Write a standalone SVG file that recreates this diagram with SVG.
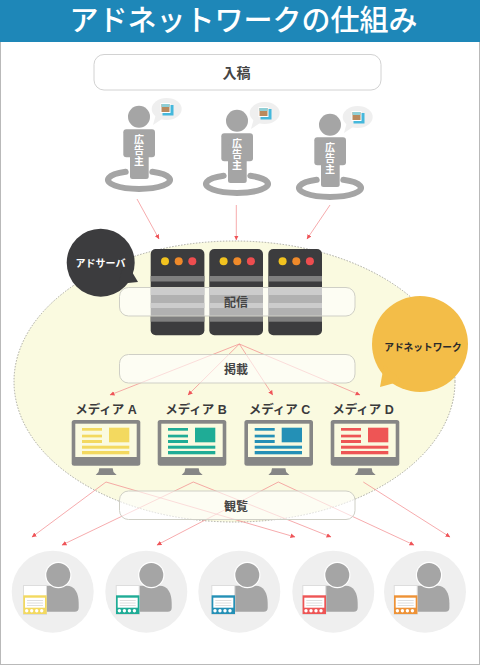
<svg xmlns="http://www.w3.org/2000/svg" xmlns:xlink="http://www.w3.org/1999/xlink" width="480" height="665" viewBox="0 0 480 665">
<style>
text{font-family:"Liberation Sans","Noto Sans CJK JP",sans-serif;font-weight:700;text-anchor:middle}
.label{fill:#444;font-size:12px}
.media{fill:#3a3a3c;font-size:12.5px}
.adv{fill:#fff;font-size:10px}
.band{fill:#fff;fill-opacity:.6;stroke:#cfcfc6;stroke-width:1}
.gray{fill:#a5a5a5}
.link{stroke:#f2878a;stroke-width:.7;fill:none;marker-end:url(#arrow)}
.stripe{fill:#7f7f7f}
</style>
<defs>
<marker id="arrow" markerUnits="userSpaceOnUse" markerWidth="6" markerHeight="5" refX="4.500" refY="2.500" orient="auto"><path d="M0 .2L4.800 2.500L0 4.800z" fill="#ef5458"/></marker>
<g id="advertiser">
<circle cx="139" cy="116.700" r="11" class="gray"/>
<rect x="123.300" y="129.300" width="31.700" height="28" rx="3" class="gray"/>
<rect x="130" y="140" width="18.700" height="39" rx="2.500" class="gray"/>
<path d="M125.700 171.800A31 9 0 1 0 152.300 171.800" fill="none" stroke="#a5a5a5" stroke-width="6" stroke-linecap="round"/>
<ellipse cx="166.700" cy="109" rx="15" ry="11" fill="#efefef"/>
<path d="M156 114L153 125L165 117z" fill="#efefef"/>
<rect x="162.500" y="105" width="11" height="10.500" fill="#45b8dc"/>
<rect x="160.500" y="103" width="10" height="10" fill="#fff"/>
<rect x="161.500" y="104" width="8" height="8" fill="#b98a5e"/>
<rect x="161.500" y="104" width="8" height="3" fill="#8fcfd6"/>
</g>
<g id="server">
<rect x="0" y="0" width="53.700" height="86.300" rx="5" fill="#3c3c3e"/>
<circle cx="14.300" cy="12.300" r="4" fill="#f2c31f"/>
<circle cx="28" cy="12.300" r="4" fill="#f08a2a"/>
<circle cx="41.600" cy="12.300" r="4" fill="#ee4d4f"/>
<rect y="27" width="53.700" height="5.500" class="stripe"/>
<rect y="38.500" width="53.700" height="7.500" class="stripe"/>
<rect y="54" width="53.700" height="5" class="stripe"/>
<rect y="67" width="53.700" height="5.700" class="stripe"/>
</g>
<g id="monitor">
<rect x="71.700" y="420" width="68.600" height="45.700" rx="2.500" fill="#868686"/>
<rect x="75.300" y="423.700" width="61.400" height="33.300" fill="#fafae0"/>
<path d="M99.300 468.300H112.700L113.500 472L116.700 475H95.700L98.500 472z" fill="#868686"/>
</g>
<g id="user">
<path d="M-6 -6H20C28 -6 32 1 32 12V16A4 4 0 0 1 28 20H-6z" class="gray"/>
<circle cx="11.600" cy="-16.700" r="13.200" fill="#fff"/>
<circle cx="11.600" cy="-16.700" r="12" class="gray"/>
</g>
<g id="cardBase">
<rect x=".5" y=".5" width="23" height="29" fill="#fff" stroke="#ddd"/>
</g>
<g id="cardInner">
<rect x="2" y="12.700" width="20" height="10" fill="#fff"/>
<path d="M4 15.500H20M4 18H20M4 20.500H20" stroke="#d5d5d5" stroke-width=".8" fill="none"/>
<circle cx="3.700" cy="25.700" r="1.700" fill="#fff"/><circle cx="8.700" cy="25.700" r="1.700" fill="#fff"/><circle cx="13.700" cy="25.700" r="1.700" fill="#fff"/><circle cx="18.700" cy="25.700" r="1.700" fill="#fff"/>
</g>
</defs>

<rect width="480" height="665" fill="#fff"/>
<rect x=".5" y=".5" width="479" height="664" fill="none" stroke="#b9b9b9"/>

<g id="header">
<rect width="480" height="42" fill="#1e87b8"/>
<text x="243.500" y="31" fill="#fff" font-size="29" style="font-weight:500">アドネットワークの仕組み</text>
</g>

<g id="network-area">
<ellipse cx="234.500" cy="381.500" rx="220.500" ry="140.500" fill="#fafae0" stroke="#a9a9a0" stroke-width="1" stroke-dasharray="1.500 1.500"/>
</g>

<g id="submit">
<rect x="94" y="54.500" width="287" height="35.500" rx="10" fill="#fff" stroke="#d2d2d2"/>
<text x="236.500" y="77.500" class="label" style="font-size:14px">入稿</text>
</g>

<g id="advertiser-1">
<use xlink:href="#advertiser" href="#advertiser"/>
<text x="139" y="143" class="adv">広</text><text x="139" y="154" class="adv">告</text><text x="139" y="165" class="adv">主</text>
</g>
<g id="advertiser-2">
<use xlink:href="#advertiser" href="#advertiser" x="98" y="4"/>
<text x="237" y="147" class="adv">広</text><text x="237" y="158" class="adv">告</text><text x="237" y="169" class="adv">主</text>
</g>
<g id="advertiser-3">
<use xlink:href="#advertiser" href="#advertiser" x="191" y="8"/>
<text x="330" y="151" class="adv">広</text><text x="330" y="162" class="adv">告</text><text x="330" y="173" class="adv">主</text>
</g>

<g id="server-1"><use xlink:href="#server" href="#server" x="150.700" y="249"/></g>
<g id="server-2"><use xlink:href="#server" href="#server" x="209.300" y="249"/></g>
<g id="server-3"><use xlink:href="#server" href="#server" x="268.300" y="249"/></g>

<g id="connectors">
<path class="link" d="M137 199L159 239"/>
<path class="link" d="M236.300 205V240"/>
<path class="link" d="M330 205L307 239"/>
<path class="link" d="M239.300 344L110 395"/>
<path class="link" d="M239.300 344L188 395"/>
<path class="link" d="M239.300 344L272.700 395"/>
<path class="link" d="M239.300 344L360 395"/>
<path class="link" d="M106 482L32 537"/>
<path class="link" d="M106 482L295 537"/>
<path class="link" d="M193.300 482L62 545"/>
<path class="link" d="M193.300 482L331 537"/>
<path class="link" d="M278.300 482L157 545"/>
<path class="link" d="M278.300 482L414 545"/>
<path class="link" d="M363.300 482L450 537"/>
</g>

<g id="delivery">
<rect x="119.500" y="287.500" width="235.500" height="28.500" rx="9" class="band"/>
<text x="236" y="306.500" class="label">配信</text>
</g>
<g id="publish">
<rect x="119.500" y="354.500" width="235.500" height="28.500" rx="9" class="band"/>
<text x="236" y="374" class="label">掲載</text>
</g>
<g id="view">
<rect x="119.500" y="491" width="235.500" height="28.500" rx="9" class="band"/>
<text x="236" y="510.500" class="label">観覧</text>
</g>

<g id="ad-server-bubble">
<circle cx="100.700" cy="262.700" r="34" fill="#3c3c3e"/>
<path d="M125 260L138 282L118 284z" fill="#3c3c3e"/>
<text x="100.500" y="267" fill="#fff" font-size="10">アドサーバ</text>
</g>
<g id="ad-network-bubble">
<circle cx="420" cy="344" r="48" fill="#f3bd48"/>
<path d="M384 365L380 387L402 381z" fill="#f3bd48"/>
<text x="423" y="350.500" fill="#2a2a2a" font-size="9.700">アドネットワーク</text>
</g>

<g id="media-a">
<text x="106" y="414" class="media">メディア A</text>
<use xlink:href="#monitor" href="#monitor"/>
<g fill="#f3d95f"><rect x="82" y="428" width="20" height="2.700"/><rect x="82" y="434.700" width="20" height="2.700"/><rect x="82" y="440" width="20" height="3"/><rect x="82" y="445.700" width="47.300" height="3"/><rect x="82" y="451" width="47.300" height="3.300"/><rect x="109" y="427.700" width="20.300" height="14.600"/></g>
</g>
<g id="media-b">
<text x="196" y="414" class="media">メディア B</text>
<use xlink:href="#monitor" href="#monitor" x="86"/>
<g fill="#1fac96"><rect x="168" y="428" width="20" height="2.700"/><rect x="168" y="434.700" width="20" height="2.700"/><rect x="168" y="440" width="20" height="3"/><rect x="168" y="445.700" width="47.300" height="3"/><rect x="168" y="451" width="47.300" height="3.300"/><rect x="195" y="427.700" width="20.300" height="14.600"/></g>
</g>
<g id="media-c">
<text x="279.500" y="414" class="media">メディア C</text>
<use xlink:href="#monitor" href="#monitor" x="172.700"/>
<g fill="#2490b6"><rect x="254.700" y="428" width="20" height="2.700"/><rect x="254.700" y="434.700" width="20" height="2.700"/><rect x="254.700" y="440" width="20" height="3"/><rect x="254.700" y="445.700" width="47.300" height="3"/><rect x="254.700" y="451" width="47.300" height="3.300"/><rect x="281.700" y="427.700" width="20.300" height="14.600"/></g>
</g>
<g id="media-d">
<text x="363" y="414" class="media">メディア D</text>
<use xlink:href="#monitor" href="#monitor" x="259"/>
<g fill="#ee5555"><rect x="341" y="428" width="20" height="2.700"/><rect x="341" y="434.700" width="20" height="2.700"/><rect x="341" y="440" width="20" height="3"/><rect x="341" y="445.700" width="47.300" height="3"/><rect x="341" y="451" width="47.300" height="3.300"/><rect x="368" y="427.700" width="20.300" height="14.600"/></g>
</g>

<g id="user-1">
<circle cx="52.700" cy="591.700" r="41" fill="#efefef"/>
<use xlink:href="#user" href="#user" x="46.700" y="591.700"/>
<use xlink:href="#cardBase" href="#cardBase" x="23" y="585"/>
<rect x="23.300" y="595.300" width="23.400" height="18.700" fill="#f3d95f"/>
<use xlink:href="#cardInner" href="#cardInner" x="23" y="585"/>
</g>
<g id="user-2">
<circle cx="146.300" cy="591.700" r="41" fill="#efefef"/>
<use xlink:href="#user" href="#user" x="139.700" y="591.700"/>
<use xlink:href="#cardBase" href="#cardBase" x="115.700" y="585"/>
<rect x="116" y="595.300" width="23.400" height="18.700" fill="#1fac96"/>
<use xlink:href="#cardInner" href="#cardInner" x="115.700" y="585"/>
</g>
<g id="user-3">
<circle cx="239.300" cy="591.700" r="41" fill="#efefef"/>
<use xlink:href="#user" href="#user" x="235.700" y="591.700"/>
<use xlink:href="#cardBase" href="#cardBase" x="211.300" y="585"/>
<rect x="211.600" y="595.300" width="23.400" height="18.700" fill="#2490b6"/>
<use xlink:href="#cardInner" href="#cardInner" x="211.300" y="585"/>
</g>
<g id="user-4">
<circle cx="333.300" cy="591.700" r="41" fill="#efefef"/>
<use xlink:href="#user" href="#user" x="325.700" y="591.700"/>
<use xlink:href="#cardBase" href="#cardBase" x="302.300" y="585"/>
<rect x="302.600" y="595.300" width="23.400" height="18.700" fill="#ee5555"/>
<use xlink:href="#cardInner" href="#cardInner" x="302.300" y="585"/>
</g>
<g id="user-5">
<circle cx="425" cy="591.700" r="41" fill="#efefef"/>
<use xlink:href="#user" href="#user" x="417.400" y="591.700"/>
<use xlink:href="#cardBase" href="#cardBase" x="393.700" y="585"/>
<rect x="394" y="595.300" width="23.400" height="18.700" fill="#ee9236"/>
<use xlink:href="#cardInner" href="#cardInner" x="393.700" y="585"/>
</g>
</svg>
